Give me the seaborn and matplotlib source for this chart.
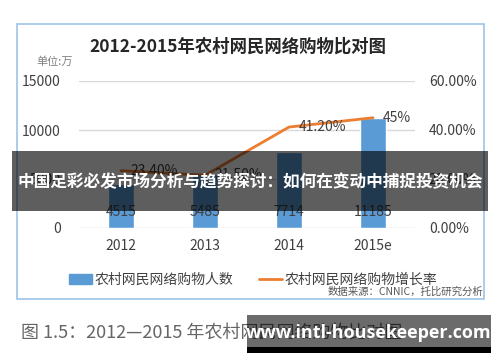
import matplotlib.pyplot as plt
import matplotlib.patches as patches
from matplotlib.lines import Line2D
from matplotlib.ticker import FuncFormatter
import seaborn as sns
import pandas as pd

years = ["2012", "2013", "2014", "2015e"]
shoppers = [4515, 5485, 7714, 11185]
growth = [0.234, 0.215, 0.412, 0.45]
growth_labels = ["23.40%", "21.50%", "41.20%", "45%"]

BLUE = "#5B9BD5"
ORANGE = "#ED7D31"

sns.set_style("white")
plt.rcParams['font.family'] = ['Noto Sans CJK SC', 'DejaVu Sans']

df = pd.DataFrame({"year": years, "shoppers": shoppers, "growth": growth})

fig = plt.figure(figsize=(5, 3.62), dpi=100)
W, H = 500, 362

def fx(px):
    return px / W

def fy(py):
    return 1 - py / H

# outer frame
fig.patches.append(patches.Rectangle((fx(17), fy(299)), fx(484) - fx(17), fy(24) - fy(299),
                                     transform=fig.transFigure, fill=False,
                                     edgecolor="#9DC3E6", linewidth=1.2))

ax = fig.add_axes([fx(79), fy(228), fx(415) - fx(79), fy(81) - fy(228)])
sns.barplot(data=df, x="year", y="shoppers", color=BLUE, width=0.31, saturation=1, ax=ax)
ax.set_ylim(0, 15000)
ax.set_yticks([0, 5000, 10000, 15000])
ax.set_xlim(-0.5, 3.5)
ax.grid(axis="y", color="#D9D9D9", linewidth=1)
ax.set_axisbelow(True)
for s in ax.spines.values():
    s.set_visible(False)
ax.set_xlabel("")
ax.set_ylabel("")
ax.tick_params(axis="both", length=0, labelsize=10, colors="#404040")
ax.tick_params(axis="y", pad=13)
ax.tick_params(axis="x", pad=8)

for i, v in enumerate(shoppers):
    ax.text(i, 1650, str(v), ha="center", va="center", fontsize=10, color="#404040")

ax2 = ax.twinx()
sns.lineplot(x=list(range(len(years))), y=growth, color=ORANGE, linewidth=2, sort=False, ax=ax2)
ax2.set_ylim(0, 0.6)
ax2.set_yticks([0, 0.2, 0.4, 0.6])
ax2.yaxis.set_major_formatter(FuncFormatter(lambda v, p: "%.2f%%" % (v * 100)))
for s in ax2.spines.values():
    s.set_visible(False)
ax2.tick_params(axis="y", length=0, labelsize=10, colors="#404040", pad=10)
for i, (v, lab) in enumerate(zip(growth, growth_labels)):
    ax2.annotate(lab, (i, v), xytext=(7, 0), textcoords="offset points",
                 ha="left", va="center", fontsize=10, color="#404040")

fig.text(fx(238), fy(47), "2012-2015年农村网民网络购物比对图", ha="center", va="center",
         fontsize=12.5, fontweight="bold", color="#262626")
fig.text(fx(55), fy(62), "单位:万", ha="center", va="center", fontsize=8, color="#7f7f7f")

handles = [patches.Patch(color=BLUE), Line2D([0], [0], color=ORANGE, linewidth=2)]
fig.legend(handles, ["农村网民网络购物人数", "农村网民网络购物增长率"], loc="center",
           bbox_to_anchor=(fx(253), fy(280)), ncol=2, frameon=False, fontsize=10,
           handlelength=1.65, handletextpad=0.15, columnspacing=1.9, labelcolor="#404040")
fig.text(fx(483), fy(292), "数据来源：CNNIC，托比研究分析", ha="right", va="center",
         fontsize=7.5, color="#595959")

fig.text(fx(21), fy(334), "图 1.5：2012—2015 年农村网民网络购物比对图", ha="left", va="center",
         fontsize=13, color="#666666")

# overlay banner
fig.patches.append(patches.Rectangle((fx(12), fy(211)), fx(488) - fx(12), fy(151) - fy(211),
                                     transform=fig.transFigure, facecolor="black",
                                     alpha=0.63, edgecolor="none", zorder=10))
fig.text(fx(250), fy(182), "中国足彩必发市场分析与趋势探讨：如何在变动中捕捉投资机会",
         ha="center", va="center", fontsize=12, fontweight="bold", color="white", zorder=11)

# watermark
fig.patches.append(patches.Rectangle((fx(247), fy(347)), fx(491) - fx(247), fy(315) - fy(347),
                                     transform=fig.transFigure, facecolor="black",
                                     alpha=0.58, edgecolor="none", zorder=10))
fig.patches.append(patches.Rectangle((fx(247), fy(353)), fx(491) - fx(247), fy(347) - fy(353),
                                     transform=fig.transFigure, facecolor="black",
                                     edgecolor="none", zorder=10))
fig.text(fx(369), fy(333), "www.intl-housekeeper.com", ha="center", va="center",
         fontsize=13, fontweight="bold", color="white", family="Open Sans", zorder=11)

plt.savefig("out.png", dpi=100)
